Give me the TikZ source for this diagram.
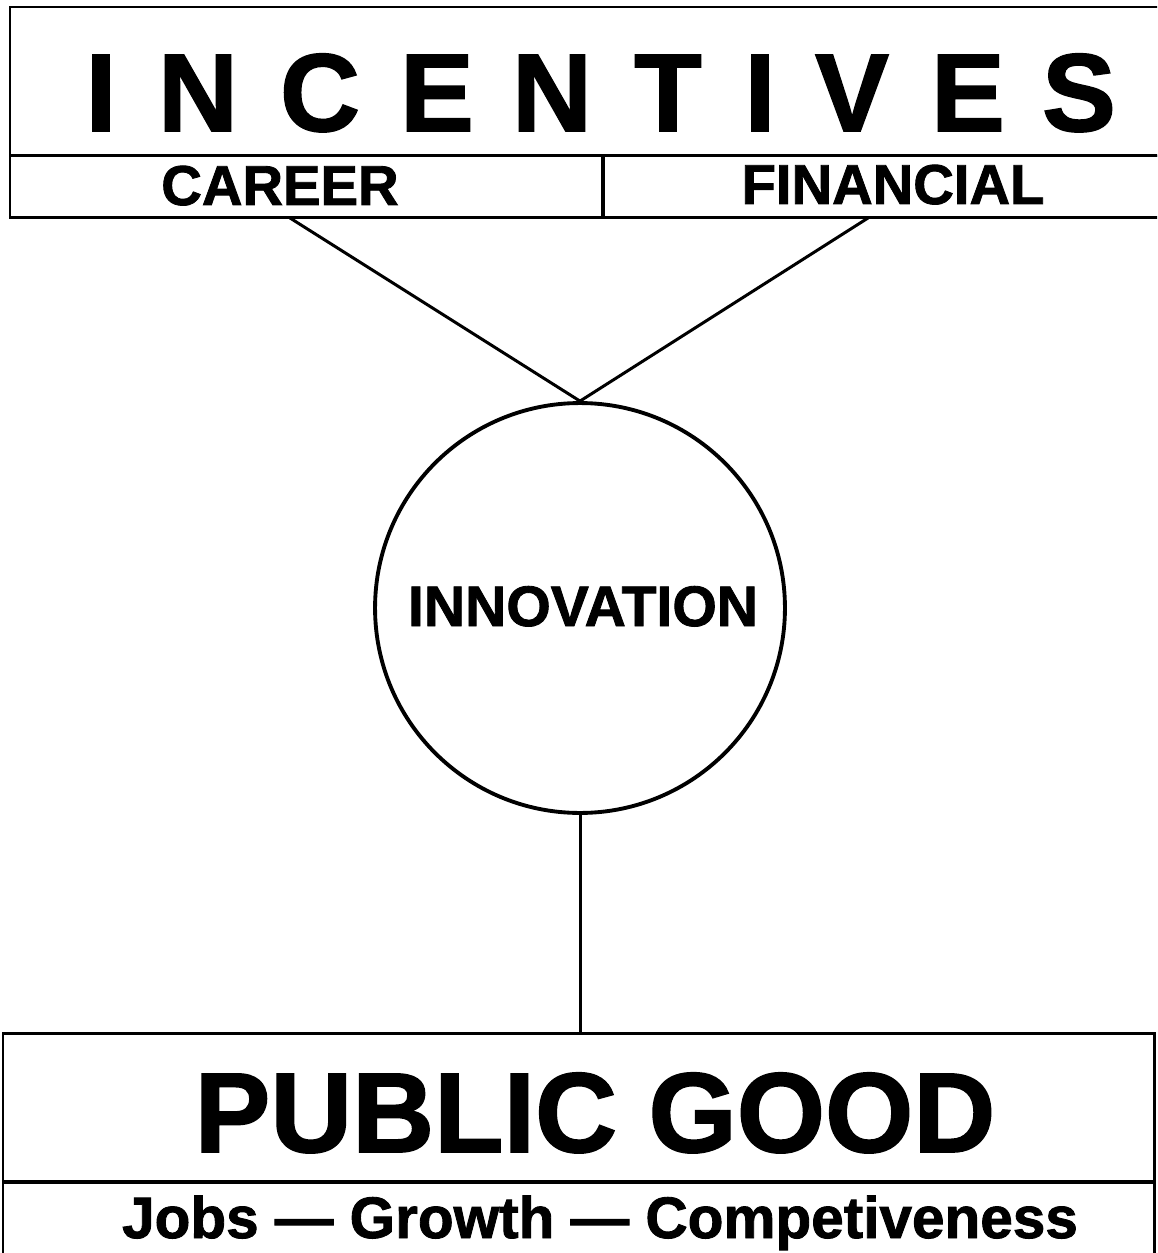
\documentclass[tikz,border=0pt]{standalone}
\usepackage{fontspec}
\setmainfont{Liberation Sans}[BoldFeatures={FakeBold=1.5}]
\usepackage{tikz}
\tikzstyle{cell} = [rectangle, draw=black, line width=1.7pt, inner sep=0pt, outer sep=0pt, anchor=north west]
\tikzstyle{caption} = [anchor=base, inner sep=0pt, font=\bfseries\fontsize{32}{32}\selectfont]
\tikzstyle{link} = [line width=1.7pt]

\begin{document}
\begin{tikzpicture}[x=0.02cm, y=-0.02cm]
\useasboundingbox (0,0) rectangle (1157,1253);
\clip (0,0) rectangle (1157,1253);
% incentives block
\node (title)[cell, minimum width=23.06cm, minimum height=2.98cm] at (10,7) {};
\node (careercell)[cell, minimum width=11.86cm, minimum height=1.24cm] at (10,156) {};
\node (financialcell)[cell, minimum width=11.2cm, minimum height=1.24cm] at (603,156) {};
\foreach \l/\x [count=\i] in {I/101, N/198, C/320, E/437, N/552, T/668, I/760, V/852, E/968, S/1079}
  \node (letter\i)[caption, font=\bfseries\fontsize{63}{63}\selectfont] at (\x,131) {\l};
\node (career)[caption] at (280,205) {CAREER};
\node (financial)[caption] at (893,204) {FINANCIAL};
\coordinate (careerfoot) at (290,218);
\coordinate (financialfoot) at (868,218);
% innovation
\node (innovation)[circle, draw=black, line width=2.2pt, inner sep=0pt, minimum size=8.2cm] at (580,608) {};
\node (innovationtext)[caption, font=\bfseries\fontsize{32.5}{32.5}\selectfont] at (583,626) {INNOVATION};
% public good block
\node (publicgood)[cell, minimum width=23.04cm, minimum height=2.98cm] at (3,1033) {};
\node (slogancell)[cell, minimum width=23.04cm, minimum height=1.8cm] at (3,1182) {};
\node (publicgoodtext)[caption, font=\bfseries\fontsize{64.6}{64.6}\selectfont] at (595,1152) {PUBLIC GOOD};
\node (slogan)[caption, font=\bfseries\fontsize{33.3}{33.3}\selectfont] at (600,1238) {Jobs — Growth — Competiveness};
% links
\draw [link] (careerfoot) -- (innovation.north);
\draw [link] (financialfoot) -- (innovation.north);
\draw [link] (innovation.south) -- (innovation.south |- publicgood.north);
\end{tikzpicture}
\end{document}
